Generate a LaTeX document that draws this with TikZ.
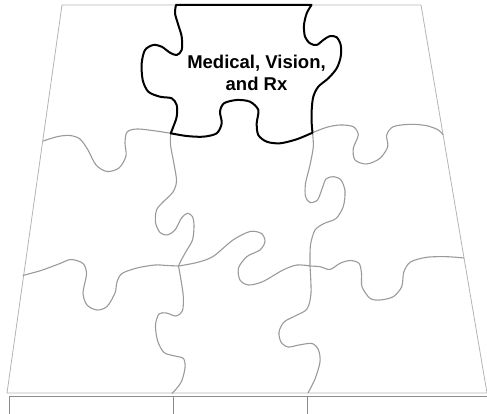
\documentclass[tikz,border=0pt]{standalone}
\usepackage{fontspec}
\setmainfont{Liberation Sans}
\definecolor{frame}{HTML}{B4B4B4}
\definecolor{cutline}{HTML}{9A9A9A}
\definecolor{strip}{HTML}{8C8C8C}
\begin{document}
\begin{tikzpicture}[x=1pt, y=-1pt,
  border/.style={draw=frame, line width=0.8pt, line join=round},
  cut/.style={draw=cutline, line width=1.1pt},
  front/.style={draw=strip, line width=0.9pt},
  piece/.style={draw=black, line width=2pt, line join=round},
  caption/.style={font=\bfseries\fontsize{18.5}{22.4}\selectfont,
                  align=center, inner sep=0pt}]
  \useasboundingbox (0,0) rectangle (487,414);
  \coordinate (tl) at (62,5);
  \coordinate (tr) at (421,5);
  \coordinate (br) at (487,393);
  \coordinate (bl) at (7,393);
  \coordinate (pl) at (176,5);
  \coordinate (pr) at (311.5,5);
  \coordinate (jl) at (170.7,133.3);
  \coordinate (jr) at (312.5,132.7);
  \coordinate (ml) at (178.5,266);
  \coordinate (mr) at (310,266);
  \draw[border] (tl) -- (tr) -- (br) -- (bl) -- cycle;
  \draw[front] (9,414) -- (9,396) -- (487,396);
  \draw[front] (173.3,396) -- (173.3,414);
  \draw[front] (307.3,396) -- (307.3,414);
  \draw[cut] plot[smooth] coordinates {(43,141) (58,136.5) (70,135.5) (80,139)
    (88,150) (96,165) (107,171.5) (119,168) (126,156) (125,143) (127,132)
    (137,129) (156,131) (jl)};
  \draw[cut] plot[smooth] coordinates {(jl) (170.5,145) (174,164) (176.5,181)
    (173,192) (163,202) (156.5,210) (155.5,222.5) (160,232.5) (167,235)
    (175,230) (181.5,218) (187.5,213.3) (192.5,216.7) (194,226) (192.5,240)
    (186,251.5) (180.5,261.5) (ml)};
  \draw[cut] plot[smooth] coordinates {(22.7,275.5) (41,270.5) (60,263.5)
    (71,259.5) (83,263.5) (86.5,274) (83,293) (87,305) (97,310) (107,306.5)
    (115,293) (117,282) (122,273.5) (137,268) (155,265) (167,265.5) (ml)};
  \draw[cut] plot[smooth] coordinates {(ml) (197,262.5) (213,256.5) (233,240)
    (250,231.5) (261.5,233.5) (265,241.5) (260,250) (247,256.5) (238.5,268)
    (240,280) (248.5,285) (263,281.5) (283,270) (297,265) (mr)};
  \draw[cut] plot[smooth] coordinates {(jr) (313.3,146.7) (310,165) (305.5,183.5)
    (305.5,196.5) (310,202.5) (317.5,200) (322,189) (326,179) (333.5,176.7)
    (341,180) (345,191) (343.3,206.5) (336,218.5) (324,223.5) (315,230)
    (310.7,243.5) (310,255) (mr)};
  \draw[cut] plot[smooth] coordinates {(jr) (326.7,127.3) (340,125) (353.3,126.7)
    (358.3,135) (353.3,148.3) (355,160) (366.7,164) (380,158.3) (387.7,146.7)
    (386.7,135) (393.3,126.7) (410,124.3) (426.7,125.7) (438.3,130) (443.3,135)};
  \draw[cut] plot[smooth] coordinates {(mr) (320,266.7) (330,269.5) (340,263.3)
    (350,260.5) (359,263.3) (361.5,273.3) (362,286.7) (370,298.3) (380,300)
    (393.3,296.7) (401.7,286.7) (403.8,272) (410.5,262) (426.7,257.3)
    (446.7,256.7) (464,258)};
  \draw[cut] plot[smooth] coordinates {(mr) (311,293) (307,309) (295,316)
    (284,322) (279,332) (281,342) (288,347) (299,345) (312,343.5) (318.5,350)
    (320,362) (315,379) (308,393)};
  \draw[cut] plot[smooth] coordinates {(ml) (181,280) (183.3,296.5) (182.5,310.5)
    (176,316) (166.5,313) (159,314) (155.5,325) (157.5,340.5) (164,352.5)
    (175,356) (183.5,358.5) (185,368) (181,382.5) (172,393.5)};
  \draw[piece] (pl) -- (pr) -- plot[smooth] coordinates {(pr) (306.7,13.3)
    (304,25) (305,36.7) (310,43.3) (316.7,45) (323.3,40) (330,36) (336.7,37.3)
    (340.7,45) (340.7,56.7) (336.7,68.3) (328.3,78.3) (318.3,86.7) (313.3,96.7)
    (311.7,110) (311.7,123.3) (jr)}
    -- plot[smooth] coordinates {(jr) (296.7,139.3) (280,143.3) (266.7,141.7)
    (258.3,135) (256.7,123.3) (258.3,110) (250,101.7) (236.7,100) (224,103.3)
    (220,111.7) (221.7,123.3) (216.7,133.3) (203.3,136.7) (186.7,136) (jl)}
    -- plot[smooth] coordinates {(jl) (173.3,126.7) (176.7,116.7) (176.7,105)
    (171.7,98.3) (160,96.7) (148.3,91.7) (142.7,80) (141.7,63.3) (145,50)
    (153.3,45) (161.7,46.7) (170,52.7) (176.7,55) (181.7,50) (181.7,36.7)
    (178.3,25) (175,13.3) (pl)} -- cycle;
  \node[caption] (title) at (256.5,72.9) {Medical, Vision,\\and Rx};
\end{tikzpicture}
\end{document}
